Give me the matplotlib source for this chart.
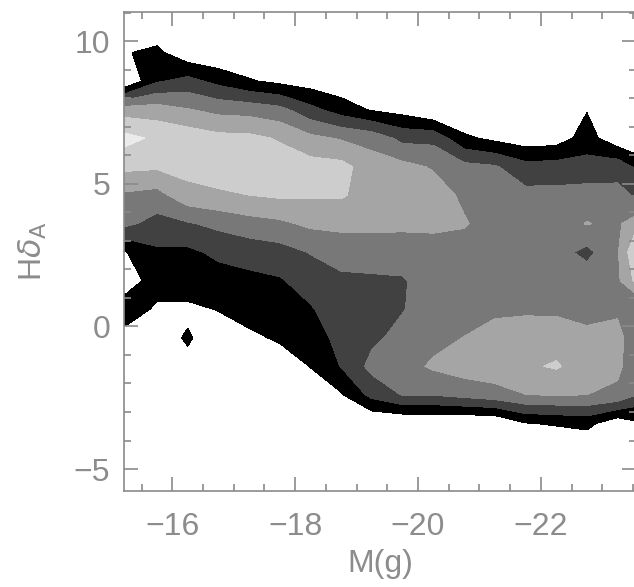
import numpy as np
import matplotlib
matplotlib.use("Agg")
import matplotlib.pyplot as plt
from matplotlib.ticker import MultipleLocator

# grid of the density map: M(g) columns, H-delta rows (top row first)
mag = [-14.75, -15.25, -15.75, -16.25, -16.75, -17.25, -17.75, -18.25, -18.75, -19.25,
       -19.75, -20.25, -20.75, -21.25, -21.75, -22.25, -22.75, -23.25, -23.75]
hdelta = [11.6, 10.6, 9.6, 8.6, 7.6, 6.6, 5.6, 4.6, 3.6, 2.6, 1.6, 0.6,
          -0.4, -1.4, -2.4, -3.4, -4.4, -5.4, -6.4]

density = [
    [0, 0, 0, 0, 0, 0, 0, 0, 0, 0, 0, 0, 0, 0, 0, 0, 0, 0, 0],
    [0, 0, 0.3, 0, 0, 0, 0, 0, 0, 0, 0, 0, 0, 0, 0, 0, 0, 0, 0],
    [0.95, 0.95, 1.21, 0.3, 0.1, 0.1, 0, 0, 0, 0, 0, 0, 0, 0, 0, 0, 0, 0, 0],
    [0.12, 0.12, 1.88, 2.32, 1.7, 1.1, 0.75, 0.5, 0.3, 0.2, 0, 0, 0, 0, 0, 0, 0, 0, 0],
    [4.5, 4.5, 4.47, 4.05, 3.7, 3.6, 3.3, 2.3, 1.5, 0.9, 0.6, 0, 0, 0, 0, 0, 0.95, 0, 0],
    [6.3, 6.3, 5.8, 5.6, 5.3, 5.25, 4.9, 4.25, 3.9, 3.6, 2.7, 2.7, 1.2, 0.75, 0.4, 0.5, 1.42, 0.3, 0.2],
    [5.23, 5.23, 5.15, 5.35, 5.5, 5.6, 5.5, 5.4, 5.3, 4.5, 4.3, 3.9, 3.3, 3.1, 2.35, 2.4, 2.4, 2.6, 1.3],
    [3.84, 3.84, 3.64, 4.65, 4.85, 5.0, 5.15, 5.1, 5.1, 4.6, 4.6, 4.5, 3.8, 3.5, 3.3, 3.3, 3.4, 3.3, 2.6],
    [3.2, 3.2, 2.63, 2.9, 3.25, 3.6, 3.8, 4.2, 4.3, 4.25, 4.2, 4.2, 4.1, 3.5, 3.5, 3.5, 4.05, 3.75, 5.6],
    [0.97, 0.97, 1.84, 1.79, 2.2, 2.4, 2.6, 3.05, 3.3, 3.45, 3.5, 3.6, 3.5, 3.5, 3.5, 3.4, 2.7, 3.9, 7.2],
    [0.59, 0.59, 1.38, 1.26, 1.6, 1.75, 1.9, 2.45, 2.85, 2.85, 2.9, 3.5, 3.4, 3.5, 3.6, 3.6, 3.6, 3.8, 6.2],
    [1.5, 1.5, 0.85, 0.9, 1.02, 1.3, 1.5, 1.9, 2.6, 2.5, 2.95, 3.5, 3.6, 3.8, 3.85, 3.8, 3.6, 3.9, 3.5],
    [0.62, 0.62, 0.8, 1.05, 0.75, 0.85, 1.1, 1.45, 2.35, 2.8, 3.3, 3.7, 4.02, 4.4, 4.5, 4.6, 4.3, 4.2, 3.2],
    [0.2, 0.2, 0.3, 0.88, 0.6, 0.5, 0.6, 1.02, 2.05, 3.3, 3.6, 4.15, 4.5, 4.6, 4.85, 5.1, 4.5, 4.2, 2.9],
    [0, 0, 0, 0.5, 0.3, 0.2, 0.3, 0.6, 0.9, 2.3, 3.05, 3.05, 3.3, 3.6, 3.98, 4.05, 4.0, 3.8, 2.5],
    [0, 0, 0, 0.2, 0, 0, 0, 0.3, 0.5, 0, 0, 0, 0, 0, 0.95, 1.1, 1.3, 0.3, 1.0],
    [0, 0, 0, 0, 0, 0, 0, 0, 0, 0, 0, 0, 0, 0, 0, 0, 0, 0, 0],
    [0, 0, 0, 0, 0, 0, 0, 0, 0, 0, 0, 0, 0, 0, 0, 0, 0, 0, 0],
    [0, 0, 0, 0, 0, 0, 0, 0, 0, 0, 0, 0, 0, 0, 0, 0, 0, 0, 0],
]

levels = [1, 2, 3, 4, 5, 6, 100]
greys = ["#000000", "#414141", "#787878", "#a5a5a5", "#cdcdcd", "#ebebeb"]

plt.rcParams["font.family"] = ["Liberation Sans", "DejaVu Sans"]
axcol = "#8a8a8a"
txtcol = "#8c8c8c"

fig = plt.figure(figsize=(6.34, 5.87), dpi=100)
ax = fig.add_axes([124 / 634, 1 - 491 / 587, 512 / 634, 479 / 587])

X, Y = np.meshgrid(mag, hdelta)
ax.contourf(X, Y, np.array(density), levels=levels, colors=greys)

ax.set_xlim(-15.213, -23.55)
ax.set_ylim(-5.77, 11.02)

ax.xaxis.set_major_locator(MultipleLocator(2))
ax.xaxis.set_minor_locator(MultipleLocator(0.5))
ax.yaxis.set_major_locator(MultipleLocator(5))
ax.yaxis.set_minor_locator(MultipleLocator(1))
ax.tick_params(which="both", direction="in", top=True, right=True,
               color=axcol, width=1.2, labelcolor=txtcol, labelsize=23)
ax.tick_params(which="major", length=10)
ax.tick_params(which="minor", length=5)
ax.tick_params(axis="x", pad=15)
ax.tick_params(axis="y", pad=10)
for s in ax.spines.values():
    s.set_color(axcol)
    s.set_linewidth(1.2)

ax.set_xlabel("M(g)", fontsize=23, color=txtcol, labelpad=5)
ax.set_ylabel(r"H$\delta_{\rm A}$", fontsize=23, color=txtcol, labelpad=18)

fig.savefig("out.png", dpi=100)
